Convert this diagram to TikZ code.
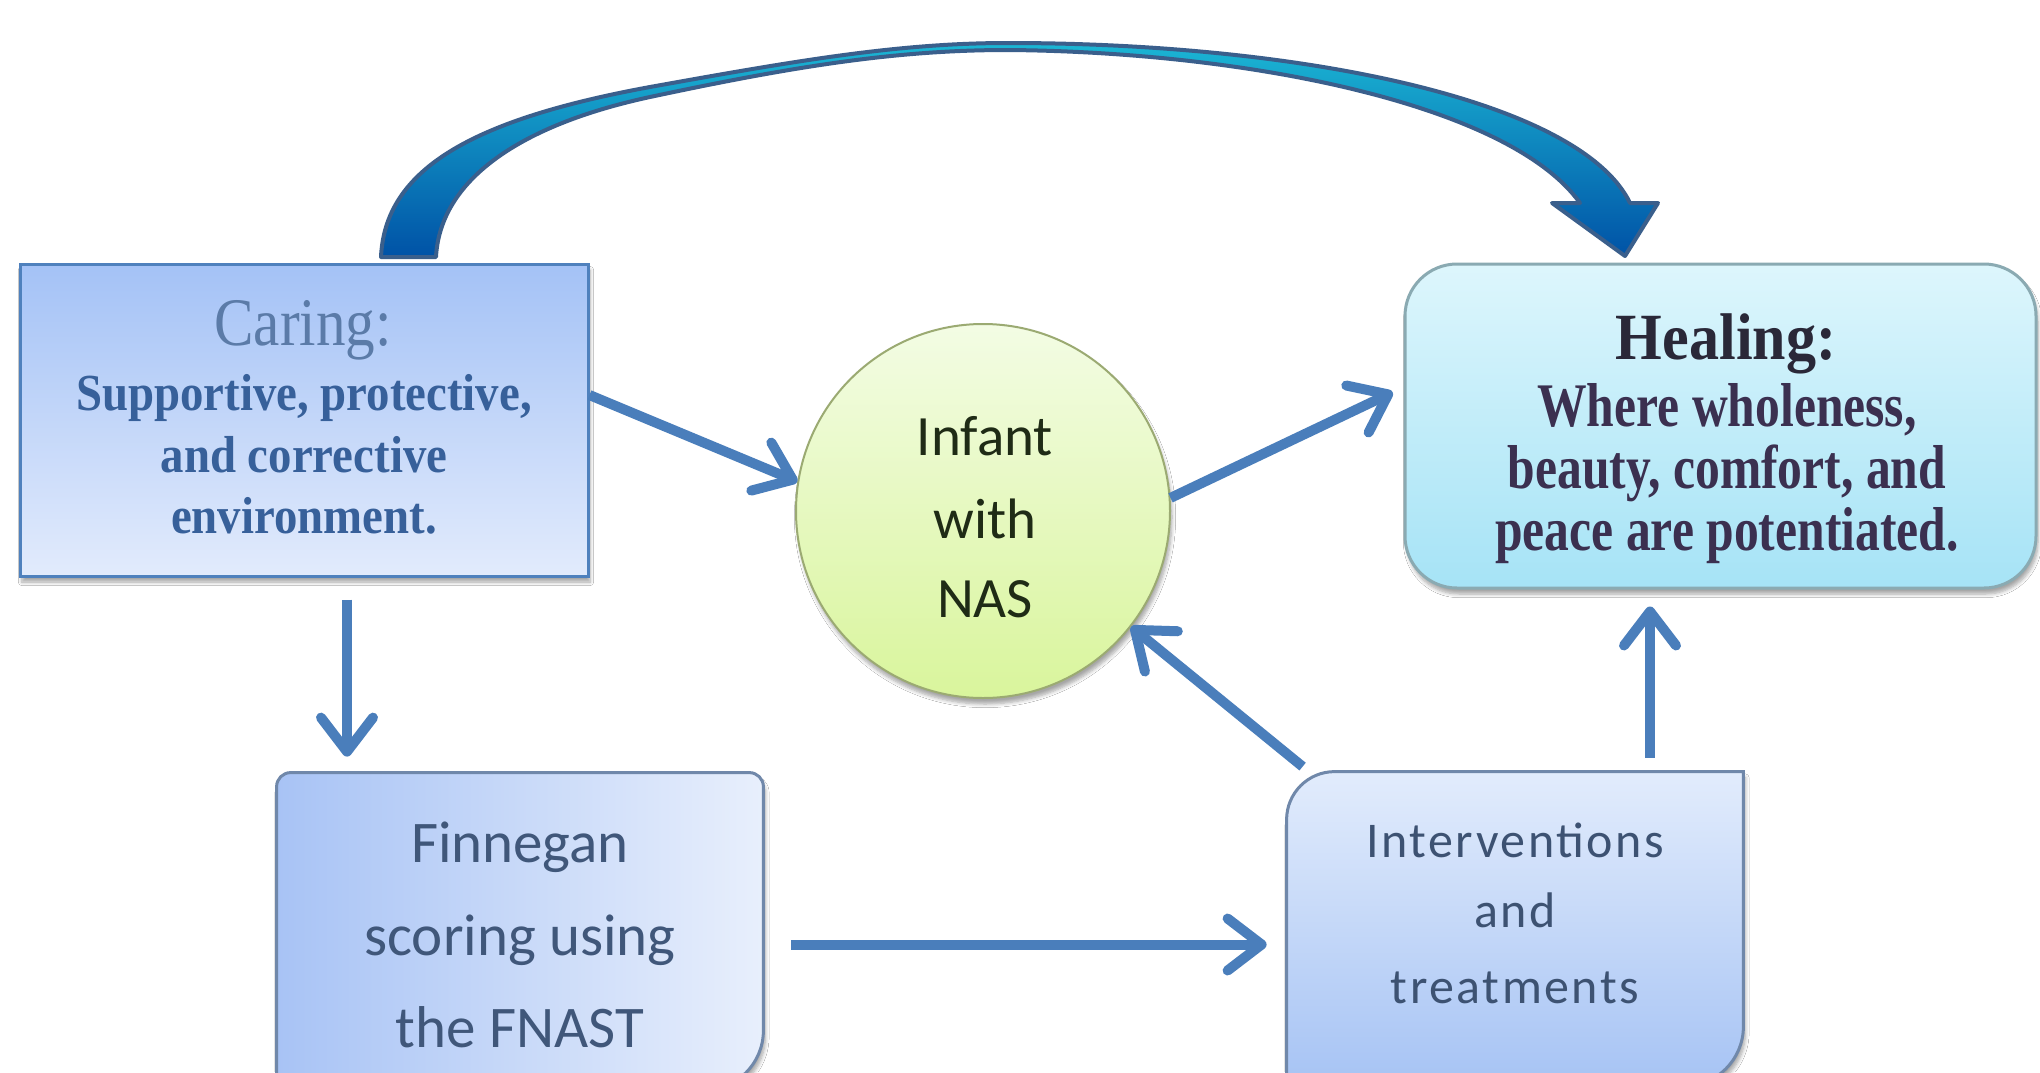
\documentclass[tikz,border=0pt]{standalone}
\usepackage{fontspec}
\setmainfont{Liberation Serif}
\newfontfamily\careTfont[FakeStretch=0.87]{Liberation Serif}
\newfontfamily\careBfont[FakeStretch=0.9]{Liberation Serif}
\newfontfamily\healTfont[FakeStretch=0.91]{Liberation Serif}
\newfontfamily\healBfont[FakeStretch=0.8]{Liberation Serif}
\newfontfamily\calibfont{Carlito}
\newfontfamily\calibLSfont[LetterSpace=5]{Carlito}
\usetikzlibrary{arrows.meta,shadows.blur,calc}
\definecolor{arrowBlue}{HTML}{4A7EBB}
\definecolor{careTitle}{HTML}{5B7BA8}
\definecolor{careBody}{HTML}{37609A}
\definecolor{healTitle}{HTML}{2A2838}
\definecolor{healBody}{HTML}{3B3050}
\definecolor{circText}{HTML}{1F2B16}
\definecolor{finnText}{HTML}{40577A}
\definecolor{intText}{HTML}{3D5272}
\definecolor{careTop}{HTML}{A4C2F6}
\definecolor{careBot}{HTML}{E2EBFC}
\definecolor{careEdge}{HTML}{4F81BD}
\definecolor{healTop}{HTML}{DDF6FC}
\definecolor{healBot}{HTML}{A6E3F6}
\definecolor{healEdge}{HTML}{8AAAB2}
\definecolor{circTop}{HTML}{F3FCE4}
\definecolor{circBot}{HTML}{D9F59C}
\definecolor{circEdge}{HTML}{9BAA72}
\definecolor{finnL}{HTML}{A8C3F5}
\definecolor{finnR}{HTML}{E8EFFC}
\definecolor{boxEdge}{HTML}{7088AA}
\definecolor{intTop}{HTML}{E2ECFC}
\definecolor{intBot}{HTML}{A6C3F4}
\definecolor{bigTop}{HTML}{1BB6D4}
\definecolor{bigBot}{HTML}{0052A6}
\definecolor{bigEdge}{HTML}{3A5F8C}
\tikzset{
  conn/.style={draw=arrowBlue, line width=5pt,
    -{Straight Barb[length=17pt,width=26pt,round]}},
  softshadow/.style={blur shadow={shadow xshift=1pt, shadow yshift=-3pt,
    shadow blur steps=6, shadow opacity=35}},
  txt/.style={anchor=base, inner sep=0pt, align=center}
}
\begin{document}
\begin{tikzpicture}[x=0.5pt,y=-0.5pt]
\useasboundingbox (0,0) rectangle (2040,1072);
\fill[white] (0,0) rectangle (2040,1072);

% big curved block arrow from Caring to Healing
\path[draw=bigEdge, line width=2pt, line join=round, top color=bigTop, bottom color=bigBot]
  (381,257) .. controls (385,170) and (470,120) .. (650,87)
  .. controls (800,60) and (900,43) .. (1008,43)
  .. controls (1300,43) and (1580,100) .. (1630,203)
  -- (1658,203) -- (1625,256) -- (1552,203) -- (1580,203)
  .. controls (1510,105) and (1250,52) .. (1008,50)
  .. controls (900,50) and (800,65) .. (650,97)
  .. controls (520,125) and (440,180) .. (436,257) -- cycle;

% nodes
\node[draw=careEdge, line width=1.5pt, top color=careTop, bottom color=careBot,
  minimum width=284pt, minimum height=156pt, softshadow] (caring) at (304,420) {};
\node[draw=healEdge, line width=1.5pt, rounded corners=26pt, top color=healTop, bottom color=healBot,
  minimum width=315.5pt, minimum height=162pt, softshadow] (healing) at (1720.5,426) {};
\node[circle, draw=circEdge, line width=1pt, top color=circTop, bottom color=circBot,
  minimum size=187pt, inner sep=0pt, softshadow] (infant) at (983,511) {};
\node[minimum width=243pt, minimum height=158.5pt, inner sep=0pt] (finn) at (520,931.5) {};
\node[minimum width=228pt, minimum height=157pt, inner sep=0pt] (interv) at (1515,929) {};

\path[draw=boxEdge, line width=1.5pt, left color=finnL, right color=finnR, softshadow]
  (finn.south west) [rounded corners=7pt] -- (finn.north west) -- (finn.north east)
  [rounded corners=30pt] -- (finn.south east) [sharp corners] -- cycle;
\path[draw=boxEdge, line width=1.5pt, top color=intTop, bottom color=intBot, softshadow]
  (interv.south west) [rounded corners=24pt] -- (interv.north west) [sharp corners] -- (interv.north east)
  [rounded corners=30pt] -- (interv.south east) [sharp corners] -- cycle;

% texts
\node[txt, text=careTitle, font=\careTfont\fontsize{34}{40}\selectfont] (ct) at (303,345) {Caring:};
\node[txt, text=careBody, font=\careBfont\bfseries\fontsize{26}{31}\selectfont] (c1) at (304,410) {Supportive, protective,};
\node[txt, text=careBody, font=\careBfont\bfseries\fontsize{26}{31}\selectfont] (c2) at (304,472) {and corrective};
\node[txt, text=careBody, font=\careBfont\bfseries\fontsize{26}{31}\selectfont] (c3) at (304,533) {environment.};

\node[txt, text=healTitle, font=\healTfont\bfseries\fontsize{33}{40}\selectfont] (ht) at (1726,359) {Healing:};
\node[txt, text=healBody, font=\healBfont\bfseries\fontsize{31}{31}\selectfont] (h1) at (1727,426) {Where wholeness,};
\node[txt, text=healBody, font=\healBfont\bfseries\fontsize{31}{31}\selectfont] (h2) at (1727,488) {beauty, comfort, and};
\node[txt, text=healBody, font=\healBfont\bfseries\fontsize{31}{31}\selectfont] (h3) at (1727,550) {peace are potentiated.};

\node[txt, text=circText, font=\calibfont\fontsize{28.5}{34}\selectfont] (i1) at (985,455) {Infant};
\node[txt, text=circText, font=\calibfont\fontsize{28.5}{34}\selectfont] (i2) at (985,538) {with};
\node[txt, text=circText, font=\calibfont\fontsize{28.5}{34}\selectfont] (i3) at (985,617) {NAS};

\node[txt, text=finnText, font=\calibfont\fontsize{29.5}{35}\selectfont] (f1) at (520,862) {Finnegan};
\node[txt, text=finnText, font=\calibfont\fontsize{29.5}{35}\selectfont] (f2) at (520,955) {scoring using};
\node[txt, text=finnText, font=\calibfont\fontsize{29.5}{35}\selectfont] (f3) at (520,1047) {the FNAST};

\node[txt, text=intText, font=\calibLSfont\fontsize{25}{30}\selectfont] (n1) at (1515,857) {Interventions};
\node[txt, text=intText, font=\calibLSfont\fontsize{25}{30}\selectfont] (n2) at (1515,927) {and};
\node[txt, text=intText, font=\calibLSfont\fontsize{25}{30}\selectfont] (n3) at (1515,1003) {treatments};

% connectors
\draw[conn] (caring.5.6) -- (infant.171);
\draw[conn, shorten >=6pt] (infant.4) -- (healing.173.7);
\draw[conn, shorten <=11pt, shorten >=8pt] ([xshift=21.5pt]caring.south) -- ([xshift=21.5pt]caring.south |- finn.north);
\draw[conn, shorten <=14pt, shorten >=10pt] ([yshift=-6.5pt]finn.east) -- ([yshift=-6.5pt]finn.east -| interv.west);
\draw[conn] ($(interv.north west)+(16,-5)$) -- (infant.-38);
\draw[conn, shorten <=7pt, shorten >=8.5pt] ([xshift=67.5pt]interv.north) -- ([xshift=67.5pt]interv.north |- healing.south);
\end{tikzpicture}
\end{document}
